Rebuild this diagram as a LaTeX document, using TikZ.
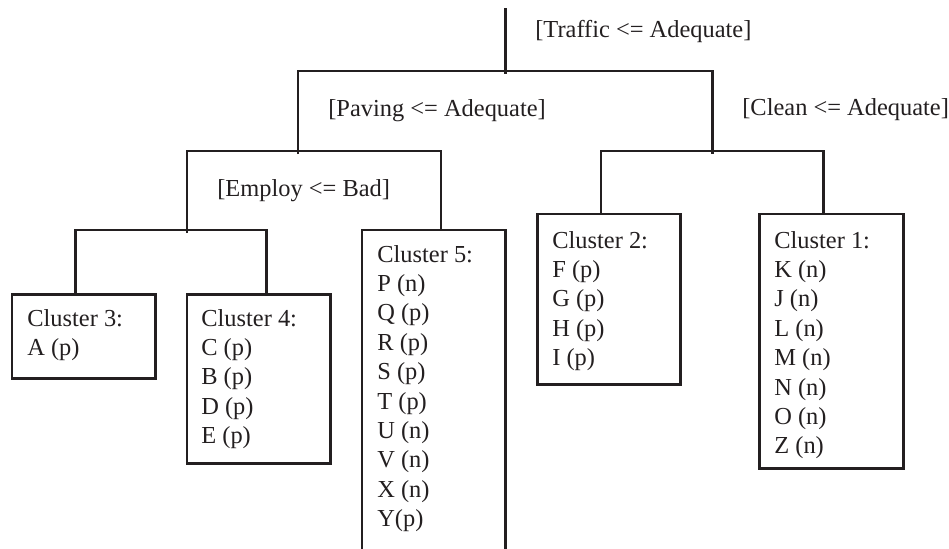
\documentclass[tikz,border=0pt]{standalone}
\usepackage{fontspec}
\setmainfont{Liberation Serif}
\usepackage{tikz}
\usetikzlibrary{calc}
\usetikzlibrary{positioning}
\definecolor{inkline}{RGB}{35,31,32}
\tikzset{treeline/.style={line width=1.7pt, draw=inkline}}
\tikzset{clusterbox/.style={draw=inkline, line width=1.7pt, rectangle, anchor=north west, inner sep=0pt, outer sep=0pt, minimum width=2.88cm}}
\tikzset{clusterlist/.style={anchor=north west, inner sep=0pt, align=left, text=inkline, font=\fontsize{13.9}{16.7}\selectfont}}
\tikzset{splitlabel/.style={anchor=west, inner sep=0pt, text=inkline, font=\fontsize{13.9}{16.7}\selectfont}}

\begin{document}
\begin{tikzpicture}[x=0.02cm, y=-0.02cm]
        \clip (0,0) rectangle (949,548);

        % Split points
        \coordinate (root) at (505,8);
        \coordinate (traffic) at (505,71);
        \coordinate (paving) at (298,151);
        \coordinate (clean) at (712,151);
        \coordinate (employ) at (187,230);

        % Clusters
        \node[clusterbox, minimum height=1.70cm] (c3) at (12,294) {};
        \node[clusterbox, minimum height=3.40cm] (c4) at (187,294) {};
        \node[clusterbox, minimum height=6.80cm] (c5) at (362,230) {};
        \node[clusterbox, minimum height=3.42cm] (c2) at (537,214) {};
        \node[clusterbox, minimum height=5.10cm, minimum width=2.90cm] (c1) at (759,214) {};

        \node[clusterlist] (c3list) at ($(c3.north west)+(15,15)$) {Cluster 3:\\A (p)};
        \node[clusterlist] (c4list) at ($(c4.north west)+(14,15)$) {Cluster 4:\\C (p)\\B (p)\\D (p)\\E (p)};
        \node[clusterlist] (c5list) at ($(c5.north west)+(15,15)$) {Cluster 5:\\P (n)\\Q (p)\\R (p)\\S (p)\\T (p)\\U (n)\\V (n)\\X (n)\\Y(p)};
        \node[clusterlist] (c2list) at ($(c2.north west)+(15,17)$) {Cluster 2:\\F (p)\\G (p)\\H (p)\\I (p)};
        \node[clusterlist] (c1list) at ($(c1.north west)+(15,17)$) {Cluster 1:\\K (n)\\J (n)\\L (n)\\M (n)\\N (n)\\O (n)\\Z (n)};

        % Split labels
        \node[splitlabel] (trafficlabel) at (535,31) {[Traffic <= Adequate]};
        \node[splitlabel] (pavinglabel) at (328,111) {[Paving <= Adequate]};
        \node[splitlabel] (cleanlabel) at (742,110) {[Clean <= Adequate]};
        \node[splitlabel] (employlabel) at (217,191) {[Employ <= Bad]};

        % Branches
        \draw[treeline] (root) -- ($(traffic)+(0,3)$);
        \draw[treeline] ($(paving)+(0,3)$) |- (traffic) -| ($(clean)+(0,3)$);
        \draw[treeline] ($(employ)+(0,3)$) |- (paving) -| ($(c5.north)+(7,0)$);
        \draw[treeline] ($(c3.north)+(-8,0)$) |- (employ) -| ($(c4.north)+(8,0)$);
        \draw[treeline] ($(c2.north)+(-8,0)$) |- (clean) -| ($(c1.north)+(-8,0)$);
    \end{tikzpicture}
\end{document}
